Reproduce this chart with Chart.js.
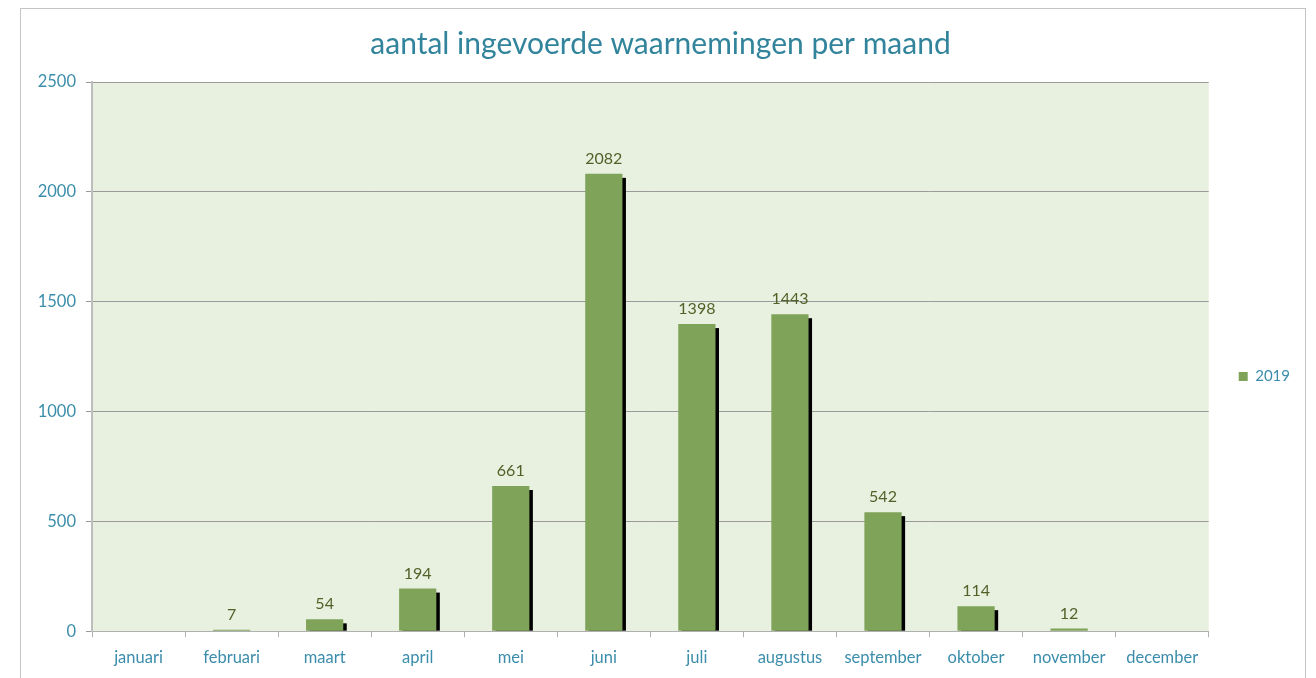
<!DOCTYPE html>
<html lang="nl">
<head>
  <meta charset="UTF-8">
  <title>aantal ingevoerde waarnemingen per maand</title>
  <script src="https://cdn.jsdelivr.net/npm/chart.js"></script>
  <style>
    html, body { margin: 0; padding: 0; background: #fff; overflow: hidden; }
    #box { position: absolute; left: 20px; top: 8px; width: 1284px; height: 700px; border: 1px solid #c4c4c4; }
    canvas { display: block; }
  </style>
</head>
<body>
  <div id="box"><canvas id="chart" width="1284" height="700"></canvas></div>

  <script>
    const months = ['januari', 'februari', 'maart', 'april', 'mei', 'juni', 'juli',
                    'augustus', 'september', 'oktober', 'november', 'december'];
    const counts2019 = [null, 7, 54, 194, 661, 2082, 1398, 1443, 542, 114, 12, null];
    const yTicks = [0, 500, 1000, 1500, 2000, 2500];

    const barColor = '#80a35a';
    const tealText = '#3b8dab';
    const labelText = '#4f6228';
    const fontFamily = 'Lato, "Open Sans", sans-serif';

    // green plot background
    const plotBg = {
      id: 'plotBg',
      beforeDraw(chart) {
        const { ctx, chartArea: a } = chart;
        ctx.save();
        ctx.fillStyle = '#e8f0e0';
        ctx.fillRect(a.left, a.top, a.right - a.left, a.bottom - a.top);
        ctx.restore();
      }
    };

    // black drop shadow behind each bar + value labels on top
    const barExtras = {
      id: 'barExtras',
      beforeDatasetsDraw(chart) {
        const { ctx } = chart;
        const meta = chart.getDatasetMeta(0);
        ctx.save();
        ctx.fillStyle = '#000';
        meta.data.forEach((bar, i) => {
          if (!counts2019[i]) return;
          const h = bar.base - bar.y - 4;
          if (h <= 0) return;
          ctx.fillRect(bar.x - bar.width / 2 + 3.5, bar.y + 4, bar.width, h);
        });
        ctx.restore();
      },
      afterDatasetsDraw(chart) {
        const { ctx } = chart;
        const meta = chart.getDatasetMeta(0);
        ctx.save();
        ctx.fillStyle = labelText;
        ctx.font = '16px ' + fontFamily;
        ctx.textAlign = 'center';
        ctx.textBaseline = 'bottom';
        meta.data.forEach((bar, i) => {
          if (!counts2019[i]) return;
          ctx.fillText(String(counts2019[i]), bar.x, bar.y - 7);
        });
        ctx.restore();
      }
    };

    new Chart(document.getElementById('chart'), {
      type: 'bar',
      data: {
        labels: months,
        datasets: [{
          label: '2019',
          data: counts2019,
          backgroundColor: barColor,
          borderWidth: 0,
          categoryPercentage: 1,
          barPercentage: 0.4
        }]
      },
      options: {
        responsive: false,
        animation: false,
        events: [],
        layout: { padding: { left: 0, right: 5, top: 0, bottom: 30 } },
        plugins: {
          title: {
            display: true,
            text: 'aantal ingevoerde waarnemingen per maand',
            color: '#31849b',
            font: { family: fontFamily, size: 30, weight: 'normal' },
            padding: { top: 17, bottom: 20 }
          },
          legend: {
            position: 'right',
            title: { display: true, text: '', font: { size: 1 }, padding: { top: 64, bottom: 0 } },
            labels: {
              color: tealText,
              font: { family: fontFamily, size: 15 },
              boxWidth: 9,
              boxHeight: 9,
              padding: 30
            }
          },
          tooltip: { enabled: false }
        },
        scales: {
          x: {
            grid: { display: true, drawOnChartArea: false, drawTicks: true, tickLength: 6, color: '#b0b0b0', offset: true },
            border: { color: '#b0b0b0' },
            ticks: { color: tealText, font: { family: fontFamily, size: 16.5 }, padding: 11, maxRotation: 0, autoSkip: false }
          },
          y: {
            min: 0,
            max: 2500,
            afterBuildTicks(axis) { axis.ticks = yTicks.map(v => ({ value: v })); },
            afterFit(axis) { axis.width = 71; },
            grid: { color: '#9a9a9a', tickLength: 6 },
            border: { display: true, color: '#bdbdbd', width: 2 },
            ticks: { color: tealText, font: { family: fontFamily, size: 16.5 }, padding: 10, callback: v => String(v) }
          }
        }
      },
      plugins: [plotBg, barExtras]
    });
  </script>
</body>
</html>
